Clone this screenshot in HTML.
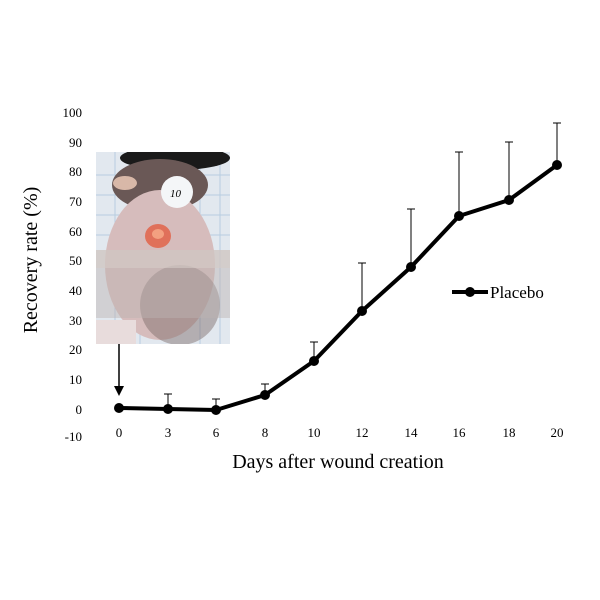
<!DOCTYPE html>
<html><head><meta charset="utf-8"><style>
html,body{margin:0;padding:0;background:#fff}
svg{display:block}
text{font-family:"Liberation Serif",serif;fill:#000}
</style></head><body>
<svg width="600" height="600" viewBox="0 0 600 600">
<defs><clipPath id="ph"><rect x="96" y="152" width="134" height="192"/></clipPath></defs>
<g clip-path="url(#ph)">
<rect x="96" y="152" width="134" height="192" fill="#e2e8ef"/>
<g stroke="#b8cde0" stroke-width="1">
<line x1="96" y1="175" x2="230" y2="175"/><line x1="96" y1="195" x2="230" y2="195"/><line x1="96" y1="215" x2="230" y2="215"/><line x1="96" y1="235" x2="230" y2="235"/>
<line x1="115" y1="152" x2="115" y2="344"/><line x1="140" y1="152" x2="140" y2="344"/><line x1="200" y1="152" x2="200" y2="344"/><line x1="220" y1="152" x2="220" y2="344"/>
</g>
<ellipse cx="175" cy="158" rx="55" ry="12" fill="#1a1a1a"/>
<ellipse cx="160" cy="185" rx="48" ry="26" fill="#6a5856"/>
<ellipse cx="160" cy="265" rx="55" ry="75" fill="#d6bcbc"/>
<ellipse cx="180" cy="305" rx="40" ry="40" fill="#7a6866" opacity="0.45"/>
<rect x="96" y="250" width="134" height="18" fill="#cfc6c2" opacity="0.8"/>
<rect x="96" y="268" width="134" height="50" fill="#bdb3b1" opacity="0.45"/>
<ellipse cx="125" cy="183" rx="12" ry="7" fill="#d8b8a8"/>
<ellipse cx="158" cy="236" rx="13" ry="12" fill="#e0705a"/>
<ellipse cx="158" cy="234" rx="6" ry="5" fill="#f3a080"/>
<circle cx="177" cy="192" r="16" fill="#f4f6f8"/>
<text x="170" y="197" font-size="11" fill="#2255aa" style="font-style:italic">10</text>
<rect x="96" y="320" width="40" height="24" fill="#e8dcdc"/>
</g>
<line x1="119" y1="344" x2="119" y2="388" stroke="#000" stroke-width="1.5"/>
<polygon points="114,386 124,386 119,396" fill="#000"/>
<g font-size="13" text-anchor="end">
<text x="82" y="117">100</text><text x="82" y="147">90</text><text x="82" y="176">80</text><text x="82" y="206">70</text><text x="82" y="236">60</text><text x="82" y="265">50</text><text x="82" y="295">40</text><text x="82" y="325">30</text><text x="82" y="354">20</text><text x="82" y="384">10</text><text x="82" y="414">0</text><text x="82" y="441">-10</text>
</g>
<g font-size="13" text-anchor="middle">
<text x="119" y="437">0</text><text x="168" y="437">3</text><text x="216" y="437">6</text><text x="265" y="437">8</text><text x="314" y="437">10</text><text x="362" y="437">12</text><text x="411" y="437">14</text><text x="459" y="437">16</text><text x="509" y="437">18</text><text x="557" y="437">20</text>
</g>
<text x="338" y="468" font-size="20" text-anchor="middle">Days after wound creation</text>
<text transform="translate(37,260) rotate(-90)" font-size="20" text-anchor="middle">Recovery rate (%)</text>
<g stroke="#000" stroke-width="1">
<line x1="168" y1="394" x2="168" y2="409"/><line x1="164" y1="394" x2="172" y2="394"/>
<line x1="216" y1="399" x2="216" y2="410"/><line x1="212" y1="399" x2="220" y2="399"/>
<line x1="265" y1="384" x2="265" y2="395"/><line x1="261" y1="384" x2="269" y2="384"/>
<line x1="314" y1="342" x2="314" y2="361"/><line x1="310" y1="342" x2="318" y2="342"/>
<line x1="362" y1="263" x2="362" y2="311"/><line x1="358" y1="263" x2="366" y2="263"/>
<line x1="411" y1="209" x2="411" y2="267"/><line x1="407" y1="209" x2="415" y2="209"/>
<line x1="459" y1="152" x2="459" y2="216"/><line x1="455" y1="152" x2="463" y2="152"/>
<line x1="509" y1="142" x2="509" y2="200"/><line x1="505" y1="142" x2="513" y2="142"/>
<line x1="557" y1="123" x2="557" y2="165"/><line x1="553" y1="123" x2="561" y2="123"/>
</g>
<polyline points="119,408 168,409 216,410 265,395 314,361 362,311 411,267 459,216 509,200 557,165" fill="none" stroke="#000" stroke-width="4" stroke-linejoin="round"/>
<g fill="#000">
<circle cx="119" cy="408" r="5"/><circle cx="168" cy="409" r="5"/><circle cx="216" cy="410" r="5"/><circle cx="265" cy="395" r="5"/><circle cx="314" cy="361" r="5"/><circle cx="362" cy="311" r="5"/><circle cx="411" cy="267" r="5"/><circle cx="459" cy="216" r="5"/><circle cx="509" cy="200" r="5"/><circle cx="557" cy="165" r="5"/>
</g>
<line x1="452" y1="292" x2="488" y2="292" stroke="#000" stroke-width="4"/>
<circle cx="470" cy="292" r="5" fill="#000"/>
<text x="490" y="298" font-size="17">Placebo</text>
</svg>
</body></html>
